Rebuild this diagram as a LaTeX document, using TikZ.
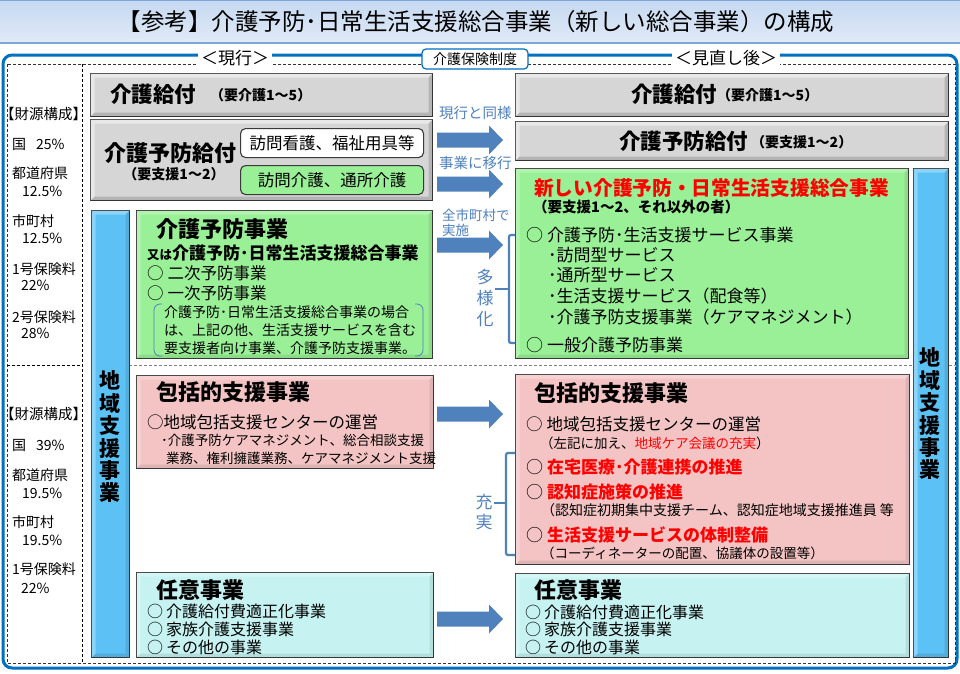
\documentclass[tikz,border=0pt]{standalone}
\usepackage{fontspec}
\setmainfont{Noto Sans CJK JP}
\usetikzlibrary{calc}
\definecolor{frameblue}{HTML}{0070C0}
\definecolor{arrowblue}{HTML}{4F81BD}
\definecolor{labelblue}{HTML}{4F81BD}
\definecolor{grayfill}{HTML}{D6D6D6}
\definecolor{boxline}{HTML}{3A3A3A}
\definecolor{greenfill}{HTML}{9AF096}
\definecolor{pinkfill}{HTML}{F4C4C4}
\definecolor{cyanfill}{HTML}{C6F3F2}
\definecolor{barfill}{HTML}{5CC2F6}
\definecolor{titletop}{HTML}{C6D9F1}
\definecolor{titlebot}{HTML}{E0EAF7}
\definecolor{titleline}{HTML}{7EA6DA}
\definecolor{redtext}{HTML}{FF0000}
\definecolor{dashgray}{HTML}{808080}
\newcommand\jfs[1]{\fontsize{#1pt}{#1pt}\selectfont}
\newcommand\blockarr[3]{\fill[arrowblue] (#1,#3-7.5) -- (#2-14,#3-7.5) -- (#2-14,#3-14.5) -- (#2,#3) -- (#2-14,#3+14.5) -- (#2-14,#3+7.5) -- (#1,#3+7.5) -- cycle;}
% bevel: light band on top/left, dark band on bottom/right, inside node #1
\newcommand\bevel[2]{%
  \fill[white, opacity=#2] ($(#1.north west)+(0.6,0.6)$) -- ($(#1.north east)+(-0.6,0.6)$) -- ($(#1.north east)+(-4.6,4.6)$) -- ($(#1.north west)+(4.6,4.6)$) -- ($(#1.south west)+(4.6,-4.6)$) -- ($(#1.south west)+(0.6,-0.6)$) -- cycle;
  \fill[black, opacity=#2*0.35] ($(#1.south east)+(-0.6,-0.6)$) -- ($(#1.south west)+(0.6,-0.6)$) -- ($(#1.south west)+(4.6,-4.6)$) -- ($(#1.south east)+(-4.6,-4.6)$) -- ($(#1.north east)+(-4.6,4.6)$) -- ($(#1.north east)+(-0.6,0.6)$) -- cycle;}
\begin{document}
\begin{tikzpicture}[x=1pt,y=-1pt,
  box/.style={draw=boxline, line width=1.1pt, anchor=north west, inner sep=0pt},
  graybox/.style={box, fill=grayfill},
  greenbox/.style={box, fill=greenfill},
  pinkbox/.style={box, fill=pinkfill},
  cyanbox/.style={box, fill=cyanfill},
  bluebar/.style={box, fill=barfill},
  txt/.style={anchor=west, inner sep=0pt, text=black},
  ctxt/.style={anchor=center, inner sep=0pt, text=black},
  bluetxt/.style={anchor=west, inner sep=0pt, text=labelblue},
  bracketline/.style={draw=arrowblue, line width=2.2pt, rounded corners=2pt},
  thinbracket/.style={draw=arrowblue, line width=0.8pt, rounded corners=6pt},
  dashline/.style={line width=0.8pt, dash pattern=on 3pt off 2pt},
  framelabel/.style={anchor=center, fill=white, inner xsep=3pt, inner ysep=1pt, text=black},
]
\useasboundingbox (0,0) rectangle (960,673);
\fill[white] (0,0) rectangle (960,673);
% title band
\shade[top color=titletop, bottom color=titlebot] (0,0) rectangle (960,43);
\draw[titleline, line width=1.5pt] (0,43) -- (960,43);
\draw[titleline, line width=0.8pt] (0,0.5) -- (960,0.5);
\node[ctxt] (title) at (476,22) {\jfs{23.5}【参考】介護予防･日常生活支援総合事業（新しい総合事業）の構成};
% outer frame
\draw[frameblue, line width=3pt, rounded corners=9pt] (3,55) rectangle (957,668);
% dashed structure
\draw[dashline, draw=black!80] (7,64) rectangle (955,663);
\draw[dashline, draw=black] (82,64) -- (82,663);
\draw[dashline, draw=black] (7,365) -- (82,365);
\draw[dashline, draw=dashgray] (129,365) -- (955,365);
% ---------- left column: finance ----------
\node[txt] (f1) at (0,114) {\jfs{14.5}【財源構成】};
\node[txt] (f2) at (12,144) {\jfs{14}国\hspace{10pt}25\%};
\node[txt] (f3) at (12,173) {\jfs{14}都道府県};
\node[txt] (f4) at (22,191) {\jfs{14}12.5\%};
\node[txt] (f5) at (12,221) {\jfs{14}市町村};
\node[txt] (f6) at (22,238) {\jfs{14}12.5\%};
\node[txt] (f7) at (12,269) {\jfs{14}1号保険料};
\node[txt] (f8) at (21,285) {\jfs{14}22\%};
\node[txt] (f9) at (12,317) {\jfs{14}2号保険料};
\node[txt] (f10) at (21,333) {\jfs{14}28\%};
\node[txt] (g1) at (0,414) {\jfs{14.5}【財源構成】};
\node[txt] (g2) at (12,445) {\jfs{14}国\hspace{10pt}39\%};
\node[txt] (g3) at (12,475) {\jfs{14}都道府県};
\node[txt] (g4) at (22,493) {\jfs{14}19.5\%};
\node[txt] (g5) at (12,522) {\jfs{14}市町村};
\node[txt] (g6) at (22,540) {\jfs{14}19.5\%};
\node[txt] (g7) at (12,569) {\jfs{14}1号保険料};
\node[txt] (g8) at (21,588) {\jfs{14}22\%};
% ---------- left (current) boxes ----------
\node[graybox, minimum width=342pt, minimum height=43pt] (gL1) at (90,73) {};
\bevel{gL1}{0.45}
\node[txt] (gL1a) at (110,94) {\jfs{21.5}\bfseries 介護給付};
\node[txt] (gL1b) at (210,95) {\jfs{14}\bfseries （要介護1～5）};
\node[graybox, minimum width=342pt, minimum height=81pt] (gL2) at (90,119) {};
\bevel{gL2}{0.45}
\node[txt] (gL2a) at (104,153) {\jfs{22}\bfseries 介護予防給付};
\node[ctxt] (gL2b) at (174,174) {\jfs{14}\bfseries （要支援1～2）};
\node[box, fill=white, rounded corners=5pt, minimum width=183pt, minimum height=29pt] (hm1) at (240,128) {};
\node[ctxt] (hm1t) at (hm1.center) {\jfs{16.5}訪問看護、福祉用具等};
\node[box, fill=greenfill, rounded corners=5pt, minimum width=183pt, minimum height=29pt] (hm2) at (240,165) {};
\node[ctxt] (hm2t) at (hm2.center) {\jfs{16.5}訪問介護、通所介護};
% left bar
\node[bluebar, minimum width=38pt, minimum height=447pt] (barL) at (91,210) {};
\bevel{barL}{0.3}
\node[ctxt, align=center, font=\fontsize{21pt}{22.4pt}\selectfont\bfseries] (barLt) at (110,437) {地\\域\\支\\援\\事\\業};
% green left
\node[greenbox, minimum width=296pt, minimum height=148pt] (grL) at (136,210) {};
\bevel{grL}{0.25}
\node[txt] (grL1) at (156,229) {\jfs{22}\bfseries 介護予防事業};
\node[txt] (grL2) at (147,253) {\bfseries{\jfs{12.5}又は}{\jfs{17}介護予防･日常生活支援総合事業}};
\node[txt] (grL3) at (147,273) {\jfs{16.5}○\hspace{4pt}二次予防事業};
\node[txt] (grL4) at (147,293) {\jfs{16.5}○\hspace{4pt}一次予防事業};
\coordinate (bkLa) at (162,304);
\coordinate (bkLb) at (162,356);
\coordinate (bkRa) at (415,304);
\coordinate (bkRb) at (415,356);
\draw[thinbracket] (bkLa) -- (154,304) -- (154,356) -- (bkLb);
\draw[thinbracket] (bkRa) -- (423,304) -- (423,356) -- (bkRb);
\node[txt] (grL5) at (164,312) {\jfs{14}介護予防･日常生活支援総合事業の場合};
\node[txt] (grL6) at (164,330) {\jfs{14}は、上記の他、生活支援サービスを含む};
\node[txt] (grL7) at (164,348) {\jfs{14}要支援者向け事業、介護予防支援事業。};
% pink left
\node[pinkbox, minimum width=297pt, minimum height=93pt] (pkL) at (136,375) {};
\bevel{pkL}{0.25}
\node[txt] (pkL1) at (156,392) {\jfs{22}\bfseries 包括的支援事業};
\node[txt] (pkL2) at (147,422) {\jfs{16.5}○地域包括支援センターの運営};
\node[txt] (pkL3) at (161,440) {\jfs{13.5}･介護予防ケアマネジメント、総合相談支援};
\node[txt] (pkL4) at (166,458) {\jfs{13.5}業務、権利擁護業務、ケアマネジメント支援};
% cyan left
\node[cyanbox, minimum width=297pt, minimum height=85pt] (cyL) at (136,572) {};
\bevel{cyL}{0.25}
\node[txt] (cyL1) at (156,590) {\jfs{22}\bfseries 任意事業};
\node[txt] (cyL2) at (147,611) {\jfs{16}○\hspace{3pt}介護給付費適正化事業};
\node[txt] (cyL3) at (147,629) {\jfs{16}○\hspace{3pt}家族介護支援事業};
\node[txt] (cyL4) at (147,647) {\jfs{16}○\hspace{3pt}その他の事業};
% ---------- arrows ----------
\blockarr{437}{503}{140}
\blockarr{437}{503}{184}
\blockarr{437}{503}{245}
\blockarr{437}{503}{414}
\blockarr{437}{503}{619}
\node[bluetxt] (a1) at (439,113) {\jfs{14.5}現行と同様};
\node[bluetxt] (a2) at (439,163) {\jfs{14.5}事業に移行};
\node[bluetxt] (a3) at (442,215) {\jfs{13.5}全市町村で};
\node[bluetxt] (a4) at (442,230) {\jfs{13.5}実施};
% ---------- right (revised) boxes ----------
\node[graybox, minimum width=433pt, minimum height=43pt] (gR1) at (515,73) {};
\bevel{gR1}{0.45}
\node[txt] (gR1a) at (631,94) {\jfs{21.5}\bfseries 介護給付\raisebox{1.5pt}{\jfs{14}（要介護1～5）}};
\node[graybox, minimum width=433pt, minimum height=39pt] (gR2) at (515,121) {};
\bevel{gR2}{0.45}
\node[txt] (gR2a) at (619,141) {\jfs{21.5}\bfseries 介護予防給付\hspace{3pt}\raisebox{1.5pt}{\jfs{14}（要支援1～2）}};
% green right
\node[greenbox, minimum width=393pt, minimum height=190pt] (grR) at (515,168) {};
\bevel{grR}{0.25}
\node[txt, text=redtext] (grR1) at (534,188) {\jfs{19.7}\bfseries 新しい介護予防・日常生活支援総合事業};
\node[txt] (grR2) at (533,207) {\jfs{14.5}\bfseries （要支援1～2、それ以外の者）};
\node[txt] (grR3) at (526,235) {\jfs{17}○\hspace{4pt}介護予防･生活支援サービス事業};
\node[txt] (grR4) at (548,255) {\jfs{17}･訪問型サービス};
\node[txt] (grR5) at (548,275) {\jfs{17}･通所型サービス};
\node[txt] (grR6) at (548,296) {\jfs{17}･生活支援サービス（配食等）};
\node[txt] (grR7) at (548,317) {\jfs{17}･介護予防支援事業（ケアマネジメント）};
\node[txt] (grR8) at (526,345) {\jfs{17}○\hspace{4pt}一般介護予防事業};
\coordinate (tyA) at (515,235);
\coordinate (tyB) at (515,343);
\coordinate (tyC) at (495,289);
\draw[bracketline] (tyA) -- (509,235) -- (509,343) -- (tyB);
\draw[arrowblue, line width=2.2pt] (509,289) -- (tyC);
\node[ctxt, text=labelblue, align=center, font=\fontsize{17pt}{21pt}\selectfont] (tyT) at (485,298) {多\\様\\化};
% pink right
\node[pinkbox, minimum width=394pt, minimum height=190pt] (pkR) at (515,374) {};
\bevel{pkR}{0.25}
\node[txt] (pkR1) at (534,393) {\jfs{22}\bfseries 包括的支援事業};
\node[txt] (pkR2) at (526,424) {\jfs{16.5}○\hspace{4pt}地域包括支援センターの運営};
\node[txt] (pkR3) at (540,443) {\jfs{13.5}（左記に加え、\textcolor{redtext}{地域ケア会議の充実}）};
\node[txt] (pkR4) at (526,467) {\jfs{17}○\hspace{4pt}\textcolor{redtext}{\bfseries 在宅医療･介護連携の推進}};
\node[txt] (pkR5) at (526,492) {\jfs{17}○\hspace{4pt}\textcolor{redtext}{\bfseries 認知症施策の推進}};
\node[txt] (pkR6) at (541,510) {\jfs{14}（認知症初期集中支援チーム、認知症地域支援推進員 等};
\node[txt] (pkR7) at (526,535) {\jfs{17}○\hspace{4pt}\textcolor{redtext}{\bfseries 生活支援サービスの体制整備}};
\node[txt] (pkR8) at (541,553) {\jfs{13.5}（コーディネーターの配置、協議体の設置等）};
\coordinate (jjA) at (515,453);
\coordinate (jjB) at (515,555);
\coordinate (jjC) at (494,503);
\draw[bracketline] (jjA) -- (506,453) -- (506,555) -- (jjB);
\draw[arrowblue, line width=2.2pt] (506,503) -- (jjC);
\node[ctxt, text=labelblue, align=center, font=\fontsize{17pt}{20pt}\selectfont] (jjT) at (484,512) {充\\実};
% cyan right
\node[cyanbox, minimum width=394pt, minimum height=84pt] (cyR) at (515,573) {};
\bevel{cyR}{0.25}
\node[txt] (cyR1) at (534,590) {\jfs{22}\bfseries 任意事業};
\node[txt] (cyR2) at (525,612) {\jfs{16}○\hspace{3pt}介護給付費適正化事業};
\node[txt] (cyR3) at (525,629) {\jfs{16}○\hspace{3pt}家族介護支援事業};
\node[txt] (cyR4) at (525,647) {\jfs{16}○\hspace{3pt}その他の事業};
% right bar
\node[bluebar, minimum width=35pt, minimum height=489pt] (barR) at (913,168) {};
\bevel{barR}{0.3}
\node[ctxt, align=center, font=\fontsize{21pt}{22.4pt}\selectfont\bfseries] (barRt) at (930,414) {地\\域\\支\\援\\事\\業};
% ---------- frame labels ----------
\node[framelabel] (lbCur) at (235,58) {\jfs{17}＜現行＞};
\node[framelabel] (lbNew) at (726,58) {\jfs{17}＜見直し後＞};
\node[anchor=center, fill=white, draw=frameblue, line width=1.2pt, rounded corners=4pt, minimum width=106pt, minimum height=20pt, inner sep=0pt] (lbIns) at (475,59) {\jfs{14}介護保険制度};
\end{tikzpicture}
\end{document}
